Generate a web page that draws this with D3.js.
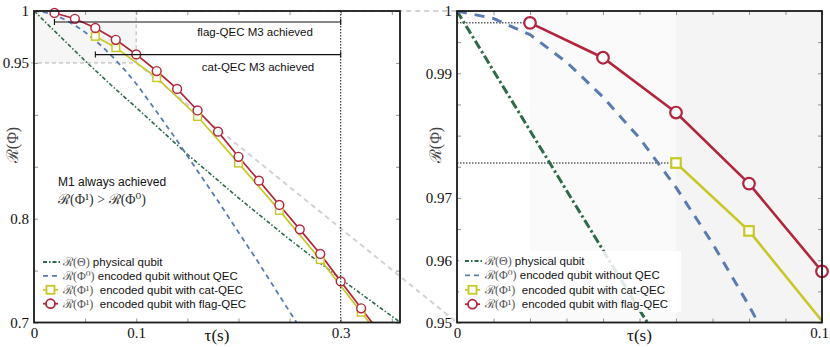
<!DOCTYPE html>
<html>
<head>
<meta charset="utf-8">
<script src="https://cdn.jsdelivr.net/npm/d3@7"></script>
<style>
  body { margin: 0; background: #fff; }
</style>
</head>
<body>
<svg width="830" height="347" font-family="'Liberation Sans', Arial, sans-serif"></svg>
<script>
const svg = d3.select("svg");

// R(Theta), physical qubit
const tauPhys = [0, 0.025, 0.05, 0.075, 0.1, 0.15, 0.2, 0.25, 0.3, 0.35, 0.36];
const fidPhys = [1, 0.976, 0.952, 0.929, 0.907, 0.862, 0.82, 0.78, 0.742, 0.706, 0.699];

// R(Phi^0), encoded qubit without QEC
const tauNoQec = [0, 0.01, 0.02, 0.03, 0.04, 0.05, 0.06, 0.07, 0.08, 0.09, 0.1, 0.12, 0.14, 0.16, 0.18, 0.2, 0.22, 0.24, 0.26];
const fidNoQec = [1, 0.9988, 0.9962, 0.9918, 0.9862, 0.9796, 0.9717, 0.9627, 0.9527, 0.9418, 0.93, 0.903, 0.875, 0.846, 0.817, 0.787, 0.757, 0.726, 0.695];

// R(Phi^1), cat-QEC
const tauCat = [0.06, 0.08, 0.12, 0.16, 0.2, 0.24, 0.28, 0.32, 0.36];
const fidCat = [0.9756, 0.9647, 0.9358, 0.8984, 0.8535, 0.808, 0.7606, 0.7099, 0.66];

// R(Phi^1), flag-QEC
const tauFlag = [0.02, 0.04, 0.06, 0.08, 0.1, 0.12, 0.14, 0.16, 0.18, 0.2, 0.22, 0.24, 0.26, 0.28, 0.3, 0.32, 0.34];
const fidFlag = [0.9981, 0.9925, 0.9837, 0.9723, 0.9582, 0.9422, 0.925, 0.9042, 0.8838, 0.8596, 0.8366, 0.8132, 0.7897, 0.766, 0.7396, 0.7137, 0.688];

// tick labels
const leftXLabels = [0, 0.1, 0.3];
const leftYLabels = [1, 0.95, 0.8, 0.7];
const rightXLabels = [0, 0.1];
const rightYLabels = [1, 0.99, 0.97, 0.96, 0.95];

const legendItems = [
    { key: "phys", math: "ℛ(Θ)", text: " physical qubit" },
    { key: "noqec", math: "ℛ(Φ⁰)", text: " encoded qubit without QEC" },
    { key: "cat", math: "ℛ(Φ¹)", text: "  encoded qubit with cat-QEC" },
    { key: "flag", math: "ℛ(Φ¹)", text: "  encoded qubit with flag-QEC" }
];

const colors = { phys: "#2f6b48", noqec: "#5a7bb0", cat: "#c8c824", flag: "#b3253d" };
const serif = "'Liberation Serif', 'DejaVu Serif', serif";

const leftCfg = {
    id: "L", x0: 34, x1: 400, y0: 11, y1: 322.5,
    xDomain: [0, 0.358], yDomain: [0.7, 1], xStep: 0.05, yStep: 0.05,
    xLabels: leftXLabels, yLabels: leftYLabels,
    lw: 1.7, r: 4.4, sq: 7.6,
    physDash: "4,2,1.5,2", physW: 1.6, noqecDash: "5,4", noqecW: 1.8,
    legend: { x: 43, y: 262, dy: 13.9, box: [38, 253, 212, 58] }
};
const rightCfg = {
    id: "R", x0: 457, x1: 822, y0: 11, y1: 322.5,
    xDomain: [0, 0.1], yDomain: [0.95, 1], xStep: 0.01, yStep: 0.005,
    xLabels: rightXLabels, yLabels: rightYLabels,
    lw: 2.6, r: 5.8, sq: 9.5,
    physDash: "9,3,2.5,3", physW: 3, noqecDash: "10,8", noqecW: 3,
    legend: { x: 465, y: 261, dy: 14.4, box: [459, 251, 222, 61] }
};

function isLabel(list, d) {
    return list.some(v => Math.abs(v - d) < 1e-9);
}

function series(tau, fid) {
    return tau.map((t, i) => ({ t: t, v: fid[i] }));
}

function drawPanel(cfg, background) {
    const x = d3.scaleLinear().domain(cfg.xDomain).range([cfg.x0, cfg.x1]);
    const y = d3.scaleLinear().domain(cfg.yDomain).range([cfg.y1, cfg.y0]);
    const g = svg.append("g");

    svg.append("clipPath").attr("id", "clip" + cfg.id)
        .append("rect")
        .attr("x", cfg.x0).attr("y", cfg.y0)
        .attr("width", cfg.x1 - cfg.x0).attr("height", cfg.y1 - cfg.y0);

    background(g, x, y);

    const line = d3.line().x(d => x(d.t)).y(d => y(d.v));
    const lines = g.append("g").attr("clip-path", `url(#clip${cfg.id})`);

    lines.append("path")
        .attr("d", line(series(tauPhys, fidPhys)))
        .attr("fill", "none").attr("stroke", colors.phys)
        .attr("stroke-width", cfg.physW).attr("stroke-dasharray", cfg.physDash);

    lines.append("path")
        .attr("d", line(series(tauNoQec, fidNoQec)))
        .attr("fill", "none").attr("stroke", colors.noqec)
        .attr("stroke-width", cfg.noqecW).attr("stroke-dasharray", cfg.noqecDash);

    lines.append("path")
        .attr("d", line(series(tauCat, fidCat)))
        .attr("fill", "none").attr("stroke", colors.cat)
        .attr("stroke-width", cfg.lw);

    lines.append("path")
        .attr("d", line(series(tauFlag, fidFlag)))
        .attr("fill", "none").attr("stroke", colors.flag)
        .attr("stroke-width", cfg.lw);

    const inside = d => d.t >= cfg.xDomain[0] && d.t <= cfg.xDomain[1] + 1e-9 &&
        d.v >= cfg.yDomain[0] && d.v <= cfg.yDomain[1];

    g.selectAll(".sq").data(series(tauCat, fidCat).filter(inside)).enter()
        .append("rect")
        .attr("x", d => x(d.t) - cfg.sq / 2).attr("y", d => y(d.v) - cfg.sq / 2)
        .attr("width", cfg.sq).attr("height", cfg.sq)
        .attr("fill", "#fff")
        .attr("stroke", colors.cat).attr("stroke-width", cfg.lw * 0.85);

    g.selectAll(".ci").data(series(tauFlag, fidFlag).filter(inside)).enter()
        .append("circle")
        .attr("cx", d => x(d.t)).attr("cy", d => y(d.v)).attr("r", cfg.r)
        .attr("fill", "#fff")
        .attr("stroke", colors.flag).attr("stroke-width", cfg.lw * 0.85);

    // ticks
    const xTicks = d3.range(cfg.xDomain[0], cfg.xDomain[1] + 1e-9, cfg.xStep);
    const yTicks = d3.range(cfg.yDomain[0], cfg.yDomain[1] + 1e-9, cfg.yStep);
    const fmt = d3.format("~g");

    const axB = g.append("g").attr("transform", `translate(0,${cfg.y1})`)
        .call(d3.axisBottom(x).tickValues(xTicks).tickSize(-4).tickPadding(5)
            .tickFormat(d => isLabel(cfg.xLabels, d) ? fmt(d) : ""));
    const axT = g.append("g").attr("transform", `translate(0,${cfg.y0})`)
        .call(d3.axisTop(x).tickValues(xTicks).tickSize(-4).tickFormat(""));
    const axL = g.append("g").attr("transform", `translate(${cfg.x0},0)`)
        .call(d3.axisLeft(y).tickValues(yTicks).tickSize(-4).tickPadding(5)
            .tickFormat(d => isLabel(cfg.yLabels, d) ? fmt(d) : ""));
    const axR = g.append("g").attr("transform", `translate(${cfg.x1},0)`)
        .call(d3.axisRight(y).tickValues(yTicks).tickSize(-4).tickFormat(""));

    [axB, axT, axL, axR].forEach(a => {
        a.select(".domain").remove();
        a.selectAll(".tick line").attr("stroke", "#777").attr("stroke-width", 0.8);
        a.selectAll(".tick text").style("font-family", serif).style("font-size", "15px").attr("fill", "#111");
    });

    // keep the last bottom label of the right panel inside the picture
    if (cfg.id === "R") {
        axB.selectAll(".tick text").filter(d => Math.abs(d - cfg.xDomain[1]) < 1e-9).attr("dx", -3);
    }

    g.append("rect")
        .attr("x", cfg.x0).attr("y", cfg.y0)
        .attr("width", cfg.x1 - cfg.x0).attr("height", cfg.y1 - cfg.y0)
        .attr("fill", "none").attr("stroke", "#1a1a1a").attr("stroke-width", 1.8);

    // axis labels
    g.append("text")
        .attr("x", (cfg.x0 + cfg.x1) / 2).attr("y", cfg.y1 + 18)
        .attr("text-anchor", "middle")
        .style("font-family", serif).style("font-size", "17px").attr("fill", "#111")
        .text("τ(s)");

    g.append("text")
        .attr("transform", `translate(${cfg.x0 - 16},${145}) rotate(-90)`)
        .attr("text-anchor", "middle")
        .style("font-family", serif).style("font-size", "16px").attr("fill", "#444")
        .text("ℛ(Φ)");

    // legend
    const lg = g.append("g");
    const b = cfg.legend.box;
    lg.append("rect").attr("x", b[0]).attr("y", b[1]).attr("width", b[2]).attr("height", b[3])
        .attr("fill", "#fff").attr("fill-opacity", 0.85);

    legendItems.forEach((item, i) => {
        const yy = cfg.legend.y + i * cfg.legend.dy;
        const lx = cfg.legend.x;
        const row = lg.append("g");
        const ln = row.append("line")
            .attr("x1", lx).attr("x2", lx + 17).attr("y1", yy).attr("y2", yy)
            .attr("stroke", colors[item.key]);
        if (item.key === "phys") {
            ln.attr("stroke-width", 1.8).attr("stroke-dasharray", "4,2,1.5,2");
        } else if (item.key === "noqec") {
            ln.attr("stroke-width", 1.8).attr("stroke-dasharray", "5,4");
        } else {
            ln.attr("stroke-width", 1.8).attr("x2", lx + 15);
        }
        if (item.key === "cat") {
            row.append("rect").attr("x", lx + 7.5 - 4).attr("y", yy - 4)
                .attr("width", 8).attr("height", 8)
                .attr("fill", "#fff").attr("stroke", colors.cat).attr("stroke-width", 1.8);
        }
        if (item.key === "flag") {
            row.append("circle").attr("cx", lx + 7.5).attr("cy", yy).attr("r", 4.5)
                .attr("fill", "#fff").attr("stroke", colors.flag).attr("stroke-width", 1.8);
        }
        const t = row.append("text")
            .attr("x", lx + 20).attr("y", yy + 4).style("font-size", "11.5px").attr("fill", "#111");
        t.append("tspan").style("font-family", serif).style("font-size", "12px").attr("fill", "#555")
            .text(item.math);
        t.append("tspan").attr("xml:space", "preserve").text(item.text);
    });

    return { g, x, y };
}

// connecting (zoom) lines behind everything
const zoomLines = svg.append("g");

const left = drawPanel(leftCfg, (g, x, y) => {
    g.append("rect")
        .attr("x", x(0)).attr("y", y(1))
        .attr("width", x(0.1) - x(0)).attr("height", y(0.95) - y(1))
        .attr("fill", "#f6f6f6");
    g.append("path")
        .attr("d", `M${x(0) - 3},${y(0.95)}H${x(0.1)}V${y(1)}`)
        .attr("fill", "none").attr("stroke", "#cfcfcf")
        .attr("stroke-width", 1.6).attr("stroke-dasharray", "4,3");
});

const right = drawPanel(rightCfg, (g, x, y) => {
    g.append("rect")
        .attr("x", x(0.02)).attr("y", y(1))
        .attr("width", x(0.06) - x(0.02)).attr("height", y(0.95) - y(1))
        .attr("fill", "#fafafa");
    g.append("rect")
        .attr("x", x(0.06)).attr("y", y(1))
        .attr("width", x(0.1) - x(0.06)).attr("height", y(0.95) - y(1))
        .attr("fill", "#f4f4f4");
    // dotted reference lines
    g.append("line")
        .attr("x1", x(0)).attr("x2", x(tauFlag[0]))
        .attr("y1", y(fidFlag[0])).attr("y2", y(fidFlag[0]))
        .attr("stroke", "#111").attr("stroke-width", 1).attr("stroke-dasharray", "1.5,1.5");
    g.append("line")
        .attr("x1", x(0)).attr("x2", x(tauCat[0]))
        .attr("y1", y(fidCat[0])).attr("y2", y(fidCat[0]))
        .attr("stroke", "#111").attr("stroke-width", 1).attr("stroke-dasharray", "1.5,1.5");
});

zoomLines.lower();
zoomLines.append("line")
    .attr("x1", left.x(0.1)).attr("y1", left.y(1))
    .attr("x2", right.x(0)).attr("y2", right.y(1))
    .attr("stroke", "#d2d2d2").attr("stroke-width", 2).attr("stroke-dasharray", "5,4");
zoomLines.append("line")
    .attr("x1", left.x(0.1)).attr("y1", left.y(0.95))
    .attr("x2", right.x(0)).attr("y2", right.y(0.95))
    .attr("stroke", "#d2d2d2").attr("stroke-width", 2).attr("stroke-dasharray", "5,4");

// left panel annotations
const lx = left.x, ly = left.y;
const ann = left.g.append("g");

ann.append("line")
    .attr("x1", lx(0.3)).attr("x2", lx(0.3)).attr("y1", ly(1)).attr("y2", ly(0.7))
    .attr("stroke", "#111").attr("stroke-width", 1).attr("stroke-dasharray", "1.5,1.5");

function bracket(t0, t1, v) {
    const yy = ly(v);
    ann.append("path")
        .attr("d", `M${lx(t0)},${yy - 3}V${yy + 3}M${lx(t0)},${yy}H${lx(t1)}M${lx(t1)},${yy - 3}V${yy + 3}`)
        .attr("fill", "none").attr("stroke", "#111").attr("stroke-width", 1.1);
}
bracket(0.02, 0.3, 0.9894);
bracket(0.06, 0.3, 0.958);

ann.append("text").attr("x", 255).attr("y", 36).attr("text-anchor", "middle")
    .style("font-size", "11.5px").attr("fill", "#111").text("flag-QEC M3 achieved");
ann.append("text").attr("x", 258).attr("y", 71).attr("text-anchor", "middle")
    .style("font-size", "11.5px").attr("fill", "#111").text("cat-QEC M3 achieved");

ann.append("text").attr("x", 58).attr("y", 186)
    .style("font-size", "12px").attr("fill", "#111").text("M1 always achieved");
ann.append("text").attr("x", 58).attr("y", 204)
    .style("font-family", serif).style("font-size", "14px").attr("fill", "#333")
    .text("ℛ(Φ¹) > ℛ(Φ⁰)");
</script>
</body>
</html>
